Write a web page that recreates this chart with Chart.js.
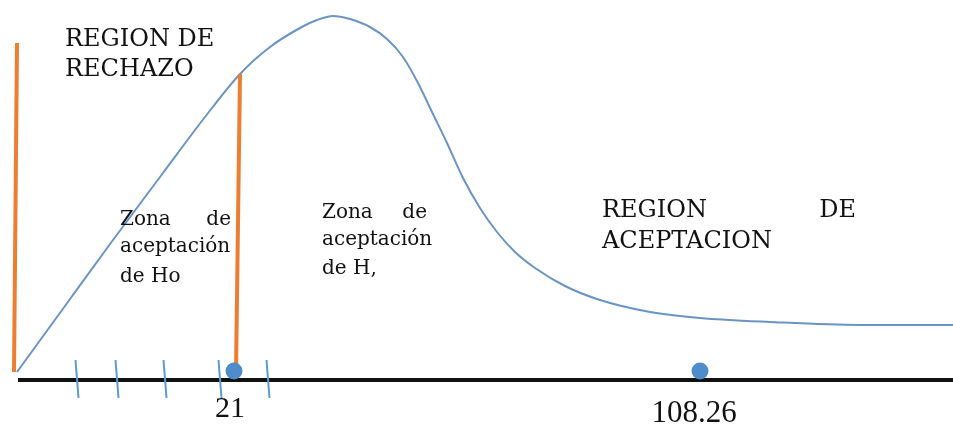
<!DOCTYPE html>
<html>
<head>
<meta charset="utf-8">
<script src="https://cdn.jsdelivr.net/npm/chart.js@4/dist/chart.umd.min.js"></script>
<style>
  html, body { margin: 0; padding: 0; background: #fff; }
  #c { display: block; }
</style>
</head>
<body>
<canvas id="c" width="953" height="426"></canvas>
<script>
// curva (x en unidades del diagrama, y = altura sobre el eje)
const curveX = [17, 65, 113, 163, 205, 240, 270, 300, 317, 333, 350, 370, 387, 403, 418, 432, 447, 463, 480, 497, 515, 535, 565, 600, 650, 700, 770, 860, 953];
const curveY = [8, 74, 140, 207, 263, 306, 333, 352, 360, 364, 361, 353, 341, 323, 297, 268, 237, 202, 172, 148, 128, 112, 94, 80, 68, 62, 58, 55, 55];

// lineas de corte (naranja): [x arriba, y arriba, x abajo, y abajo]
const cutLeft = [17, 337, 14, 8];
const cutRight = [240, 306, 236, 9];

// marcas sobre el eje
const tickMarks = [77, 117, 165, 220, 268];

// valores marcados
const markerX = [234, 700];
const markerLabels = ['21', '108.26'];

const axisStart = 18;
const axisEnd = 953;

// datos para las marcas con huecos entre ellas
const tickData = [];
tickMarks.forEach(function (t) {
    tickData.push({ x: t - 1.5, y: 20 });
    tickData.push({ x: t + 1.5, y: -18 });
    tickData.push({ x: t, y: null });
});

const textPlugin = {
    id: 'texts',
    afterDatasetsDraw(chart) {
        const ctx = chart.ctx;
        const sx = chart.scales.x;
        const sy = chart.scales.y;
        const px = v => sx.getPixelForValue(v);
        const py = v => sy.getPixelForValue(380 - v);
        ctx.save();
        ctx.fillStyle = '#111';
        ctx.textBaseline = 'alphabetic';

        // titulos en mayusculas
        ctx.font = '24px "DejaVu Serif"';
        ctx.textAlign = 'left';
        ctx.fillText('REGION DE', px(65), py(46));
        ctx.fillText('RECHAZO', px(65), py(76));
        ctx.fillText('REGION', px(602), py(217));
        ctx.textAlign = 'right';
        ctx.fillText('DE', px(856), py(217));
        ctx.textAlign = 'left';
        ctx.fillText('ACEPTACION', px(602), py(248));

        // zonas
        ctx.font = '20px "DejaVu Serif"';
        ctx.fillText('Zona', px(120), py(225));
        ctx.textAlign = 'right';
        ctx.fillText('de', px(231), py(225));
        ctx.textAlign = 'left';
        ctx.fillText('aceptación', px(120), py(252));
        ctx.fillText('de Ho', px(120), py(282));

        ctx.fillText('Zona', px(322), py(218));
        ctx.textAlign = 'right';
        ctx.fillText('de', px(427), py(218));
        ctx.textAlign = 'left';
        ctx.fillText('aceptación', px(322), py(245));
        ctx.fillText('de H,', px(322), py(274));

        // valores bajo el eje
        ctx.font = '30px "Liberation Serif"';
        ctx.textAlign = 'center';
        ctx.fillText(markerLabels[0], px(markerX[0] - 4), py(417));
        ctx.font = '31px "Liberation Serif"';
        ctx.fillText(markerLabels[1], px(markerX[1] - 6), py(422));
        ctx.restore();
    }
};

const ctx = document.getElementById('c').getContext('2d');
const chart = new Chart(ctx, {
    type: 'line',
    data: {
        datasets: [
            {
                // eje horizontal
                data: [{ x: axisStart, y: 0 }, { x: axisEnd, y: 0 }],
                borderColor: '#111',
                borderWidth: 4,
                pointRadius: 0,
                order: 3
            },
            {
                data: tickData,
                borderColor: '#5B9BD5',
                borderWidth: 2,
                pointRadius: 0,
                spanGaps: false,
                order: 2
            },
            {
                data: curveX.map((x, i) => ({ x: x, y: curveY[i] })),
                borderColor: '#6A95C3',
                borderWidth: 2,
                pointRadius: 0,
                cubicInterpolationMode: 'monotone',
                order: 2
            },
            {
                data: [{ x: cutLeft[0], y: cutLeft[1] }, { x: cutLeft[2], y: cutLeft[3] }],
                borderColor: '#ED7D31',
                borderWidth: 4,
                pointRadius: 0,
                order: 1
            },
            {
                data: [{ x: cutRight[0], y: cutRight[1] }, { x: cutRight[2], y: cutRight[3] }],
                borderColor: '#ED7D31',
                borderWidth: 4,
                pointRadius: 0,
                order: 1
            },
            {
                data: markerX.map(x => ({ x: x, y: 9 })),
                showLine: false,
                pointRadius: 8.5,
                pointBackgroundColor: '#4F8CCB',
                pointBorderColor: '#4F8CCB',
                pointBorderWidth: 0,
                order: 0
            }
        ]
    },
    options: {
        responsive: false,
        animation: false,
        layout: { padding: 0, autoPadding: false },
        clip: false,
        plugins: {
            legend: { display: false },
            tooltip: { enabled: false }
        },
        scales: {
            x: { type: 'linear', min: 0, max: 953, display: false },
            y: { type: 'linear', min: -46, max: 380, display: false }
        }
    },
    plugins: [textPlugin]
});
</script>
</body>
</html>
